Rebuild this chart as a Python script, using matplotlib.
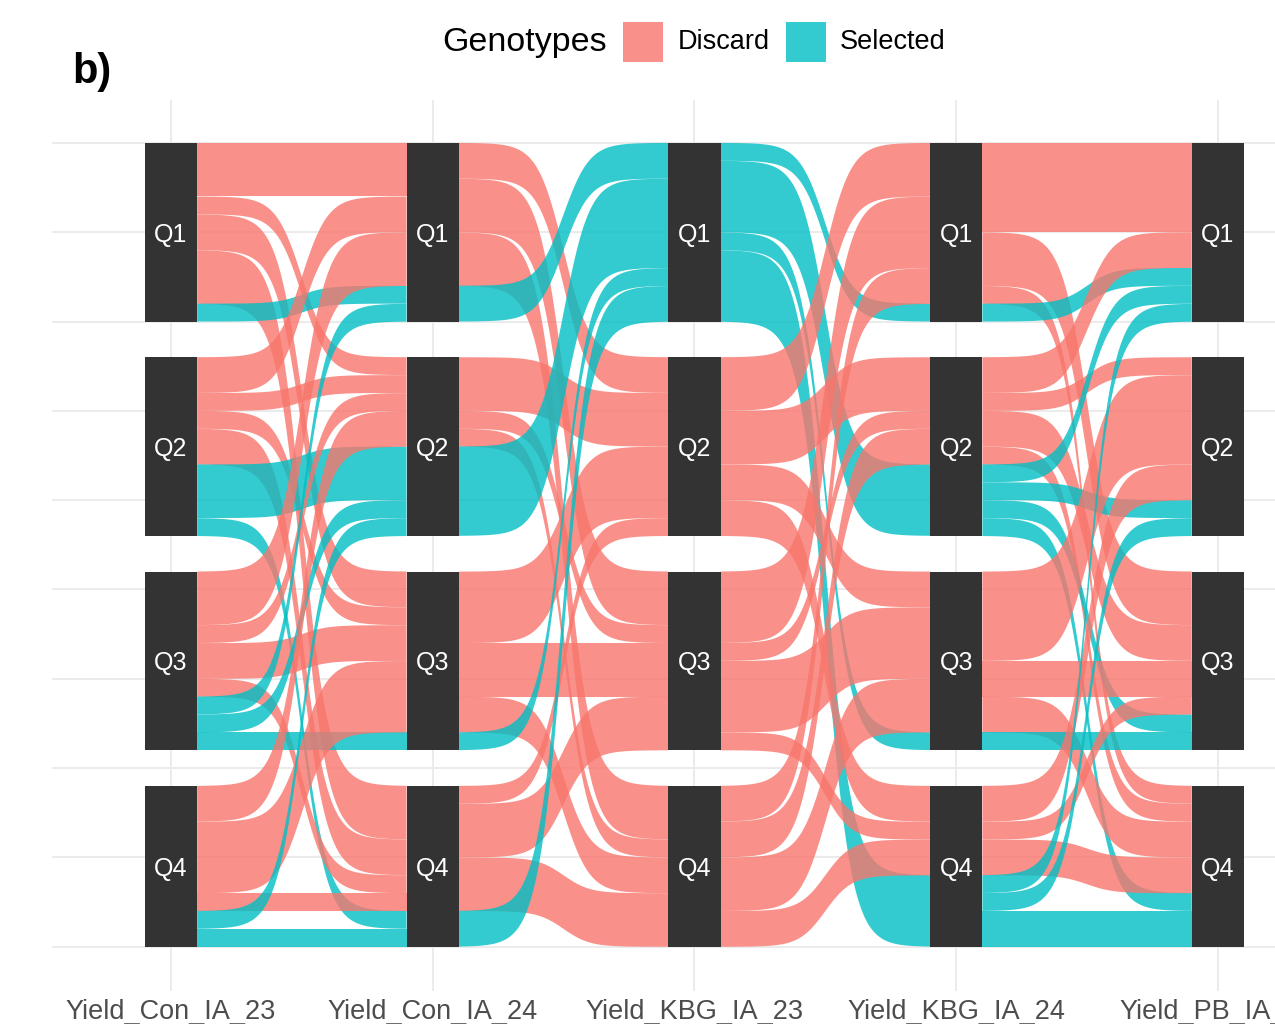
import numpy as np
import matplotlib
matplotlib.use("Agg")
import matplotlib.pyplot as plt
from matplotlib.patches import Rectangle, Polygon

plt.rcParams['font.family'] = ['Liberation Sans', 'DejaVu Sans']

# ---------------- data ----------------
axis_labels = ["Yield_Con_IA_23", "Yield_Con_IA_24", "Yield_KBG_IA_23",
               "Yield_KBG_IA_24", "Yield_PB_IA_24"]
quartiles = ["Q1", "Q2", "Q3", "Q4"]
genotypes = ["Discard", "Selected"]
genotype_colors = {"Discard": "#F8766D", "Selected": "#00BFC4"}

# (from quartile, to quartile, genotype, number of genotypes)
flows_con23_con24 = [
    ("Q1", "Q1", "Discard", 6), ("Q1", "Q2", "Discard", 2), ("Q1", "Q3", "Discard", 4), ("Q1", "Q4", "Discard", 6),
    ("Q2", "Q1", "Discard", 4), ("Q2", "Q2", "Discard", 2), ("Q2", "Q3", "Discard", 2), ("Q2", "Q4", "Discard", 4),
    ("Q3", "Q1", "Discard", 6), ("Q3", "Q2", "Discard", 2), ("Q3", "Q3", "Discard", 4), ("Q3", "Q4", "Discard", 2),
    ("Q4", "Q2", "Discard", 4), ("Q4", "Q3", "Discard", 8), ("Q4", "Q4", "Discard", 2),
    ("Q1", "Q1", "Selected", 2),
    ("Q2", "Q2", "Selected", 6), ("Q2", "Q4", "Selected", 2),
    ("Q3", "Q1", "Selected", 2), ("Q3", "Q2", "Selected", 2), ("Q3", "Q3", "Selected", 2),
    ("Q4", "Q2", "Selected", 2), ("Q4", "Q4", "Selected", 2),
]
flows_con24_kbg23 = [
    ("Q1", "Q2", "Discard", 4), ("Q1", "Q3", "Discard", 6), ("Q1", "Q4", "Discard", 6),
    ("Q2", "Q2", "Discard", 6), ("Q2", "Q3", "Discard", 2), ("Q2", "Q4", "Discard", 2),
    ("Q3", "Q2", "Discard", 8), ("Q3", "Q3", "Discard", 6), ("Q3", "Q4", "Discard", 4),
    ("Q4", "Q2", "Discard", 2), ("Q4", "Q3", "Discard", 6), ("Q4", "Q4", "Discard", 6),
    ("Q1", "Q1", "Selected", 4), ("Q2", "Q1", "Selected", 10),
    ("Q3", "Q1", "Selected", 2), ("Q4", "Q1", "Selected", 4),
]
flows_kbg23_kbg24 = [
    ("Q2", "Q1", "Discard", 6), ("Q2", "Q2", "Discard", 6), ("Q2", "Q3", "Discard", 4), ("Q2", "Q4", "Discard", 4),
    ("Q3", "Q1", "Discard", 8), ("Q3", "Q2", "Discard", 2), ("Q3", "Q3", "Discard", 8), ("Q3", "Q4", "Discard", 2),
    ("Q4", "Q1", "Discard", 4), ("Q4", "Q2", "Discard", 4), ("Q4", "Q3", "Discard", 6), ("Q4", "Q4", "Discard", 4),
    ("Q1", "Q1", "Selected", 2), ("Q1", "Q2", "Selected", 8),
    ("Q1", "Q3", "Selected", 2), ("Q1", "Q4", "Selected", 8),
]
flows_kbg24_pb24 = [
    ("Q1", "Q1", "Discard", 10), ("Q1", "Q3", "Discard", 6), ("Q1", "Q4", "Discard", 2),
    ("Q2", "Q1", "Discard", 4), ("Q2", "Q2", "Discard", 2), ("Q2", "Q3", "Discard", 4), ("Q2", "Q4", "Discard", 2),
    ("Q3", "Q2", "Discard", 10), ("Q3", "Q3", "Discard", 4), ("Q3", "Q4", "Discard", 4),
    ("Q4", "Q2", "Discard", 4), ("Q4", "Q3", "Discard", 2), ("Q4", "Q4", "Discard", 4),
    ("Q1", "Q1", "Selected", 2),
    ("Q2", "Q1", "Selected", 2), ("Q2", "Q2", "Selected", 2), ("Q2", "Q3", "Selected", 2), ("Q2", "Q4", "Selected", 2),
    ("Q3", "Q3", "Selected", 2),
    ("Q4", "Q1", "Selected", 2), ("Q4", "Q2", "Selected", 2), ("Q4", "Q4", "Selected", 4),
]
transitions = [flows_con23_con24, flows_con24_kbg23, flows_kbg23_kbg24, flows_kbg24_pb24]

# ---------------- layout / style ----------------
GAP = 4.0
NODE_W = 0.2
SMOOTH = 8
ALPHA = 0.8
NODE_COLOR = "#333333"
GRID_COLOR = "#EBEBEB"

W, H = 1275, 1024
fig = plt.figure(figsize=(W / 100, H / 100), dpi=100)
ax = fig.add_axes([52 / W, 1 - 991 / H, 1 - 52 / W, (991 - 100) / H])
ax.set_xlim(0.5454, 5.218)
ax.set_ylim(-4.95, 94.8)
for s in ax.spines.values():
    s.set_visible(False)
ax.set_yticks([])
ax.set_xticks(range(1, len(axis_labels) + 1))
ax.set_xticklabels(axis_labels, fontsize=19.5, color="#4D4D4D")
ax.tick_params(axis="x", length=0, pad=6)

# grid
for g in range(0, 91, 10):
    ax.axhline(g, color=GRID_COLOR, lw=1.4, zorder=0)
for xi in range(1, len(axis_labels) + 1):
    ax.axvline(xi, color=GRID_COLOR, lw=1.4, zorder=0)

# node sizes per axis
n_axes = len(axis_labels)
node_sizes = []
for a in range(n_axes):
    sizes = {q: 0 for q in quartiles}
    if a < len(transitions):
        for f, t, g, n in transitions[a]:
            sizes[f] += n
    else:
        for f, t, g, n in transitions[a - 1]:
            sizes[t] += n
    node_sizes.append(sizes)

# node tops (Q1 at top, Q4 at bottom touching 0)
node_top = []
for a in range(n_axes):
    tops = {}
    y = 0.0
    for q in reversed(quartiles):
        y += node_sizes[a][q]
        tops[q] = y
        y += GAP
    node_top.append(tops)


def sigmoid(x0, x1, y0, y1, n=120):
    t = np.linspace(-SMOOTH, SMOOTH, n)
    s = np.exp(t) / (np.exp(t) + 1)
    return x0 + (t + SMOOTH) / (2 * SMOOTH) * (x1 - x0), y0 + s * (y1 - y0)


qi = {q: i for i, q in enumerate(quartiles)}
gi = {g: i for i, g in enumerate(genotypes)}

for a, flows in enumerate(transitions):
    x0 = a + 1 + NODE_W / 2
    x1 = a + 2 - NODE_W / 2
    # source side stacking: by genotype, then destination
    src_pos = {}
    cursor = dict(node_top[a])
    for idx in sorted(range(len(flows)), key=lambda i: (qi[flows[i][0]], gi[flows[i][2]], qi[flows[i][1]])):
        f, t, g, n = flows[idx]
        top = cursor[f]
        src_pos[idx] = (top, top - n)
        cursor[f] = top - n
    # destination side stacking: by genotype, then source
    dst_pos = {}
    cursor = dict(node_top[a + 1])
    for idx in sorted(range(len(flows)), key=lambda i: (qi[flows[i][1]], gi[flows[i][2]], qi[flows[i][0]])):
        f, t, g, n = flows[idx]
        top = cursor[t]
        dst_pos[idx] = (top, top - n)
        cursor[t] = top - n
    draw_order = sorted(range(len(flows)), key=lambda i: (qi[flows[i][0]], gi[flows[i][2]], qi[flows[i][1]]))
    for idx in draw_order:
        f, t, g, n = flows[idx]
        xs, ytop = sigmoid(x0, x1, src_pos[idx][0], dst_pos[idx][0])
        _, ybot = sigmoid(x0, x1, src_pos[idx][1], dst_pos[idx][1])
        verts = np.concatenate([np.column_stack([xs, ytop]),
                                np.column_stack([xs[::-1], ybot[::-1]])])
        ax.add_patch(Polygon(verts, closed=True, facecolor=genotype_colors[g],
                             alpha=ALPHA, edgecolor="none", zorder=1))

# nodes
for a in range(n_axes):
    for q in quartiles:
        top = node_top[a][q]
        size = node_sizes[a][q]
        ax.add_patch(Rectangle((a + 1 - NODE_W / 2, top - size), NODE_W, size,
                               facecolor=NODE_COLOR, edgecolor="none", zorder=2))
        ax.text(a + 1, top - size / 2, q, color="white", fontsize=18,
                ha="center", va="center_baseline", zorder=3)

# legend (top, horizontal)
fig.text(442 / W, 1 - 42 / H, "Genotypes", fontsize=24.5, ha="left", va="center", color="black")
key_x = [623, 786]
text_x = [678, 840]
for g, kx, tx in zip(genotypes, key_x, text_x):
    fig.add_artist(Rectangle((kx / W, 1 - 62 / H), 40 / W, 40 / H, transform=fig.transFigure,
                             facecolor=genotype_colors[g], alpha=ALPHA, edgecolor="none"))
    fig.text(tx / W, 1 - 42 / H, g, fontsize=19.5, ha="left", va="center", color="black")

fig.text(72 / W, 1 - 72 / H, "b)", fontsize=30, fontweight="bold", ha="left", va="center")

fig.savefig("out.png", dpi=100)
